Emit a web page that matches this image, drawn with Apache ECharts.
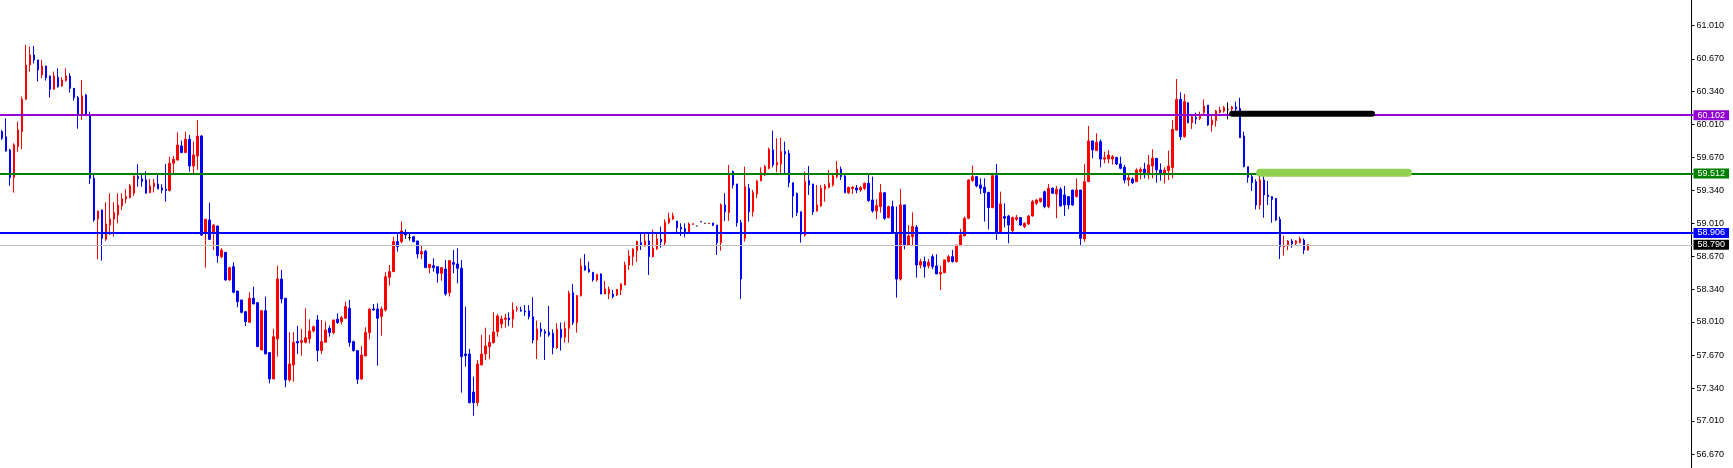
<!DOCTYPE html>
<html>
<head>
<meta charset="utf-8">
<script src="https://cdn.jsdelivr.net/npm/echarts@6/dist/echarts.min.js"></script>
<style>
html,body{margin:0;padding:0;background:#fff;}
#chart{width:1733px;height:468px;}
</style>
</head>
<body>
<div id="chart"></div>
<script>
// OHLC bars: [open, close, low, high]
const bars = [
[59.934,59.867,59.850,59.950],
[59.883,59.738,59.732,60.069],[59.748,59.468,59.387,59.760],[59.472,59.799,59.317,59.816],[59.782,59.951,59.732,60.035],
[59.934,60.261,59.756,60.288],[60.261,60.608,60.255,60.810],[60.608,60.709,60.541,60.793],[60.709,60.659,60.625,60.800],
[60.659,60.558,60.440,60.660],[60.507,60.598,60.473,60.659],[60.598,60.480,60.450,60.600],[60.497,60.362,60.278,60.500],
[60.362,60.497,60.355,60.541],[60.483,60.389,60.379,60.574],[60.396,60.456,60.389,60.483],[60.450,60.497,60.440,60.574],
[60.497,60.372,60.328,60.524],[60.372,60.278,60.248,60.375],[60.278,60.103,59.964,60.295],[60.103,60.295,60.052,60.456],
[60.305,60.103,60.100,60.315],[60.103,59.462,59.405,60.136],[59.462,59.041,59.024,59.513],[59.051,59.132,58.643,59.135],
[59.142,58.856,58.630,59.145],[58.846,59.001,58.829,59.220],[58.991,59.051,58.889,59.311],[59.051,59.115,58.873,59.220],
[59.092,59.193,59.007,59.311],[59.183,59.253,59.142,59.311],[59.253,59.277,59.210,59.351],[59.267,59.388,59.260,59.405],
[59.311,59.486,59.284,59.490],[59.479,59.459,59.378,59.604],[59.456,59.429,59.378,59.506],[59.446,59.311,59.310,59.533],
[59.318,59.385,59.311,59.456],[59.378,59.412,59.318,59.456],[59.405,59.355,59.351,59.499],[59.365,59.344,59.311,59.402],
[59.351,59.338,59.226,59.607],[59.338,59.614,59.330,59.681],[59.614,59.654,59.513,59.688],[59.648,59.799,59.640,59.927],
[59.789,59.722,59.720,59.843],[59.722,59.857,59.720,59.934],[59.857,59.587,59.530,59.900],[59.587,59.698,59.513,59.833],
[59.688,59.890,59.547,60.052],[59.890,58.889,58.880,59.900],
[58.906,59.048,58.559,59.050],[59.041,58.845,58.840,59.216],[58.906,58.990,58.737,58.995],[58.980,58.680,58.609,58.980],
[58.670,58.737,58.653,58.754],[58.714,58.434,58.427,58.714],[58.434,58.559,58.427,58.569],[58.569,58.310,58.300,58.613],
[58.323,58.215,58.158,58.323],[58.232,58.107,58.097,58.232],[58.114,58.013,57.969,58.114],[58.006,58.249,58.006,58.310],
[58.249,58.192,58.190,58.367],[58.205,57.760,57.760,58.205],[57.726,58.124,57.726,58.124],[58.124,57.686,57.686,58.266],
[57.700,57.433,57.389,57.700],[57.433,57.861,57.433,57.939],[57.838,58.444,57.659,58.579],[58.444,58.242,58.198,58.535],
[58.249,57.423,57.349,58.249],[57.423,57.585,57.406,57.905],[57.575,57.804,57.406,57.905],[57.811,57.797,57.686,57.969],
[57.804,57.821,57.669,57.939],[57.804,57.851,57.794,58.148],[57.838,57.919,57.794,58.037],[57.919,57.962,57.905,57.972],
[58.030,57.720,57.609,58.080],[57.720,57.811,57.686,58.030],[57.804,57.929,57.804,58.013],[57.946,57.902,57.861,57.972],
[57.902,58.030,57.885,58.030],[58.037,58.003,57.989,58.097],[58.013,58.053,57.986,58.070],[58.047,58.165,58.047,58.215],
[58.148,57.801,57.760,58.232],[57.811,57.720,57.710,57.821],[57.720,57.430,57.383,57.720],[57.433,57.676,57.423,57.767],
[57.666,57.902,57.666,57.956],[57.902,58.138,57.834,58.148],[58.141,58.131,58.124,58.192],[58.141,58.047,57.568,58.198],
[58.064,58.141,57.871,58.165],[58.131,58.468,58.114,58.512],[58.461,58.518,58.377,58.586],[58.518,58.822,58.518,58.872],
[58.822,58.771,58.721,58.906],[58.822,58.930,58.805,59.024],[58.913,58.889,58.849,58.946],[58.862,58.862,58.832,58.913],
[58.872,58.822,58.815,58.872],[58.829,58.697,58.653,58.829],[58.697,58.721,58.646,58.788],[58.727,58.559,58.559,58.737],
[58.559,58.593,58.502,58.593],[58.579,58.559,58.518,58.653],[58.569,58.502,58.407,58.569],[58.502,58.559,58.427,58.559],
[58.545,58.293,58.276,58.636],[58.306,58.630,58.266,58.630],[58.610,58.593,58.502,58.737],[58.596,58.552,58.400,58.754],
[58.552,57.659,57.295,58.636],[57.686,57.669,57.558,58.165],[57.686,57.194,57.187,57.736],[57.302,57.194,57.062,57.457],
[57.194,57.585,57.160,57.625],[57.575,57.686,57.575,57.878],[57.686,57.767,57.625,57.952],[57.760,57.804,57.635,57.878],
[57.800,57.908,57.794,58.107],[57.912,58.070,57.861,58.090],[57.989,58.040,57.945,58.073],[58.036,58.050,57.952,58.090],
[58.050,58.030,57.969,58.107],[58.040,58.131,57.952,58.208],[58.137,58.144,58.114,58.171],[58.131,58.121,58.114,58.164],
[58.121,58.110,58.070,58.181],[58.121,58.063,58.036,58.181],[58.063,57.827,57.794,58.259],[57.827,57.939,57.635,58.023],
[57.939,57.912,57.861,58.003],[57.912,57.895,57.625,57.935],[57.905,57.878,57.861,58.171],[57.895,57.750,57.682,57.935],
[57.750,57.935,57.736,57.996],[57.935,57.851,57.720,58.003],[57.854,57.945,57.800,58.013],[57.945,58.299,57.800,58.326],
[58.306,58.003,57.979,58.394],[58.003,58.276,57.902,58.282],[58.276,58.576,58.266,58.653],[58.576,58.535,58.528,58.697],
[58.542,58.515,58.508,58.619],[58.512,58.434,58.417,58.512],[58.434,58.491,58.417,58.491],[58.495,58.292,58.292,58.501],
[58.292,58.343,58.292,58.424],[58.296,58.340,58.239,58.367],[58.289,58.266,58.249,58.333],[58.282,58.340,58.272,58.340],
[58.333,58.394,58.282,58.400],[58.383,58.586,58.383,58.619],[58.586,58.677,58.535,58.737],[58.670,58.747,58.579,58.754],
[58.731,58.822,58.619,58.832],[58.811,58.788,58.737,58.913],[58.778,58.828,58.771,58.913],[58.828,58.670,58.485,58.916],
[58.670,58.754,58.663,58.940],[58.747,58.849,58.737,58.913],[58.845,58.818,58.761,58.973],[58.811,59.017,58.778,59.047],
[59.014,59.057,58.997,59.115],[59.051,59.084,59.041,59.115],[59.030,58.963,58.906,59.030],[58.966,58.950,58.879,59.007],
[58.956,58.923,58.865,59.007],[58.923,59.000,58.916,59.017],[58.996,59.003,58.996,59.003],[58.980,58.980,58.980,58.980],
[59.024,59.020,59.020,59.024],[59.007,59.007,59.007,59.007],[59.004,59.008,59.004,59.008],[59.010,58.984,58.984,59.010],
[58.990,58.812,58.687,58.990],[58.812,59.193,58.731,59.209],[59.193,59.125,59.031,59.311],[59.115,59.513,59.031,59.597],
[59.530,59.395,59.360,59.540],[59.405,59.014,58.974,59.405],[59.014,58.444,58.242,59.041],[58.855,59.378,58.822,59.580],
[59.361,59.125,59.024,59.405],[59.125,59.317,59.075,59.344],[59.304,59.435,59.260,59.445],[59.435,59.519,59.435,59.573],
[59.496,59.580,59.486,59.597],[59.563,59.755,59.553,59.772],[59.749,59.597,59.573,59.944],[59.597,59.621,59.523,59.867],
[59.607,59.732,59.513,59.873],[59.732,59.708,59.513,59.833],[59.715,59.418,59.371,59.749],[59.418,59.284,59.065,59.418],
[59.311,59.115,59.081,59.317],[59.125,58.899,58.812,59.125],[58.889,59.428,58.872,59.530],[59.439,59.395,59.294,59.587],
[59.405,59.125,59.092,59.405],[59.132,59.193,59.125,59.395],[59.182,59.361,59.176,59.395],[59.354,59.385,59.226,59.405],
[59.371,59.412,59.361,59.546],[59.395,59.486,59.378,59.496],[59.479,59.553,59.462,59.637],[59.553,59.479,59.445,59.580],
[59.486,59.317,59.311,59.496],[59.317,59.371,59.304,59.378],[59.358,59.371,59.304,59.385],[59.364,59.344,59.311,59.395],
[59.344,59.368,59.327,59.385],[59.361,59.412,59.344,59.418],[59.412,59.236,59.226,59.506],[59.243,59.132,59.115,59.479],
[59.132,59.186,59.048,59.250],[59.176,59.317,59.115,59.405],[59.317,59.058,59.041,59.317],[59.065,59.176,59.058,59.186],
[59.176,58.906,58.899,59.236],[58.906,58.444,58.256,59.176],[58.444,59.193,58.428,59.354],[59.193,58.788,58.744,59.193],
[58.788,58.879,58.788,58.990],[58.872,58.974,58.788,59.118],[58.967,58.586,58.458,58.990],[58.586,58.620,58.552,58.647],
[58.620,58.569,58.458,58.670],[58.579,58.613,58.552,58.647],[58.670,58.569,58.542,58.694],[58.576,58.495,58.495,58.694],
[58.495,58.512,58.333,58.579],[58.508,58.637,58.502,58.637],[58.620,58.670,58.610,58.687],[58.670,58.620,58.610,58.738],
[58.620,58.788,58.610,58.788],[58.781,58.889,58.781,58.950],[58.879,59.058,58.879,59.075],[59.058,59.445,59.048,59.452],
[59.439,59.479,59.428,59.587],[59.479,59.385,59.371,59.486],[59.395,59.361,59.304,59.462],[59.371,59.317,59.024,59.462],
[59.321,59.166,58.947,59.321],[59.166,59.489,59.159,59.489],[59.489,58.923,58.839,59.607],[58.923,59.203,58.913,59.327],
[59.075,59.058,58.967,59.209],[59.081,58.990,58.805,59.092],[58.933,59.065,58.906,59.075],[59.048,59.065,59.031,59.092],
[59.065,58.990,58.980,59.068],[58.974,59.007,58.957,59.017],[59.000,59.081,58.990,59.092],[59.081,59.226,59.075,59.243],
[59.209,59.243,59.193,59.250],[59.226,59.260,59.216,59.260],[59.327,59.176,59.159,59.337],[59.176,59.361,59.159,59.405],
[59.361,59.311,59.304,59.371],[59.304,59.351,59.058,59.385],[59.351,59.182,59.176,59.371],[59.294,59.193,59.081,59.385],
[59.277,59.193,59.149,59.277],[59.344,59.193,59.182,59.344],[59.277,59.344,59.270,59.462],[59.344,58.855,58.778,59.344],
[58.849,59.428,58.822,59.607],[59.428,59.840,59.428,59.991],[59.840,59.749,59.664,59.840],[59.742,59.826,59.742,59.917],
[59.833,59.657,59.573,59.856],[59.657,59.671,59.614,59.731],[59.657,59.698,59.614,59.748],[59.657,59.681,59.603,59.698],
[59.671,59.607,59.597,59.681],[59.607,59.563,59.553,59.681],[59.573,59.445,59.411,59.597],[59.445,59.469,59.384,59.506],
[59.455,59.418,59.405,59.472],[59.428,59.546,59.428,59.563],[59.529,59.553,59.452,59.573],[59.556,59.519,59.462,59.620],
[59.519,59.597,59.452,59.698],[59.586,59.664,59.462,59.755],[59.664,59.546,59.418,59.664],[59.546,59.512,59.438,59.613],
[59.512,59.546,59.411,59.573],[59.539,59.586,59.445,59.741],[59.570,59.957,59.462,60.051],[59.950,60.260,59.944,60.466],
[60.260,59.883,59.849,60.331],[59.883,60.237,59.873,60.314],[60.227,60.024,60.018,60.227],[60.024,60.085,59.960,60.102],
[60.078,60.061,60.011,60.126],[60.068,60.109,60.051,60.136],[60.126,60.193,60.109,60.260],[60.203,60.001,59.994,60.203],
[60.001,60.051,59.934,60.092],[60.045,60.142,59.984,60.153],[60.129,60.153,60.119,60.186],[60.142,60.176,60.126,60.193],
[60.159,60.159,60.058,60.230],[60.163,60.183,60.129,60.193],[60.183,60.163,60.142,60.237],[60.169,59.873,59.873,60.277],
[59.890,59.580,59.573,59.933],[59.580,59.472,59.418,59.580],[59.479,59.418,59.334,59.512],[59.428,59.192,59.148,59.452],
[59.192,59.445,59.148,59.502],[59.445,59.293,59.064,59.495],[59.293,59.276,59.192,59.435],[59.276,59.249,59.013,59.283],
[59.259,59.040,59.030,59.259],[59.047,58.771,58.646,59.074],[58.771,58.781,58.680,58.882],[58.781,58.828,58.737,58.838],
[58.828,58.798,58.761,58.848],[58.805,58.828,58.788,58.838],[58.811,58.848,58.805,58.872],[58.838,58.737,58.697,58.855],
[58.737,58.790,58.730,58.798]
];

// empty future bar slots to the right of the last bar
const futureSlots = 96;
const categories = Array.from({length: bars.length + futureSlots}, (_, i) => String(i));

// right-axis tick labels
const yTicks = [56.670, 57.010, 57.340, 57.670, 58.010, 58.340, 58.670, 59.010, 59.340, 59.670, 60.010, 60.340, 60.670, 61.010];

// horizontal levels
const levelPurple = 60.102;
const levelGreen = 59.512;
const levelBlue = 58.906;
const bidPrice = 58.790;

// zone segments: [fromBar, toBar, price]
const zoneBlack = [308, 343, 60.115];
const zoneLime = [315, 352, 59.519];

const yMin = 56.533, yMax = 61.265;

const chart = echarts.init(document.getElementById('chart'), null, {renderer: 'canvas'});

const FONT = 'Liberation Sans, Arial, sans-serif';

function tag(price, color, lineColor, width) {
  return {
    yAxis: price,
    lineStyle: {color: lineColor, width: width, type: 'solid'},
    label: {
      show: true, position: 'end', distance: 0,
      formatter: () => price.toFixed(3),
      color: '#fff', backgroundColor: color,
      padding: [1, 4, 0, 4], fontSize: 9, fontFamily: FONT,
      lineHeight: 9
    }
  };
}

chart.setOption({
  animation: false,
  backgroundColor: '#fff',
  grid: {left: -2.5, right: 39.5, top: 0, bottom: 0, containLabel: false},
  xAxis: {
    type: 'category', data: categories, boundaryGap: true, show: false
  },
  yAxis: {
    type: 'value', position: 'right', offset: -2, min: yMin, max: yMax, scale: true,
    splitLine: {show: false},
    axisLine: {show: true, lineStyle: {color: '#000', width: 1}},
    axisTick: {show: true, length: 3, lineStyle: {color: '#000'}, customValues: yTicks},
    axisLabel: {
      show: true, margin: 5, color: '#000', fontSize: 9,
      fontFamily: FONT,
      customValues: yTicks,
      formatter: v => Number(v).toFixed(3)
    }
  },
  series: [
    {
      type: 'candlestick',
      data: bars,
      barWidth: 2,
      z: 2,
      itemStyle: {
        color: '#ff0000', color0: '#0000ff',
        borderColor: '#ff0000', borderColor0: '#0000ff',
        borderColorDoji: '#000000',
        borderWidth: 1
      }
    },
    {
      type: 'line', data: [], z: 5, symbol: 'none',
      markLine: {
        silent: true, symbol: ['none', 'none'], animation: false,
        data: [
          tag(bidPrice, '#000000', '#c0c0c0', 1),
          tag(levelPurple, '#9400d3', '#9400d3', 2),
          tag(levelGreen, '#008000', '#008000', 2),
          tag(levelBlue, '#0000ff', '#0000ff', 2)
        ]
      }
    },
    {
      type: 'line', z: 6, symbol: 'none',
      data: [[zoneBlack[0], zoneBlack[2]], [zoneBlack[1], zoneBlack[2]]],
      lineStyle: {color: '#000000', width: 6, cap: 'round'}
    },
    {
      type: 'line', z: 6, symbol: 'none',
      data: [[zoneLime[0], zoneLime[2]], [zoneLime[1], zoneLime[2]]],
      lineStyle: {color: '#92d050', width: 8, cap: 'round'}
    }
  ]
});
</script>
</body>
</html>
